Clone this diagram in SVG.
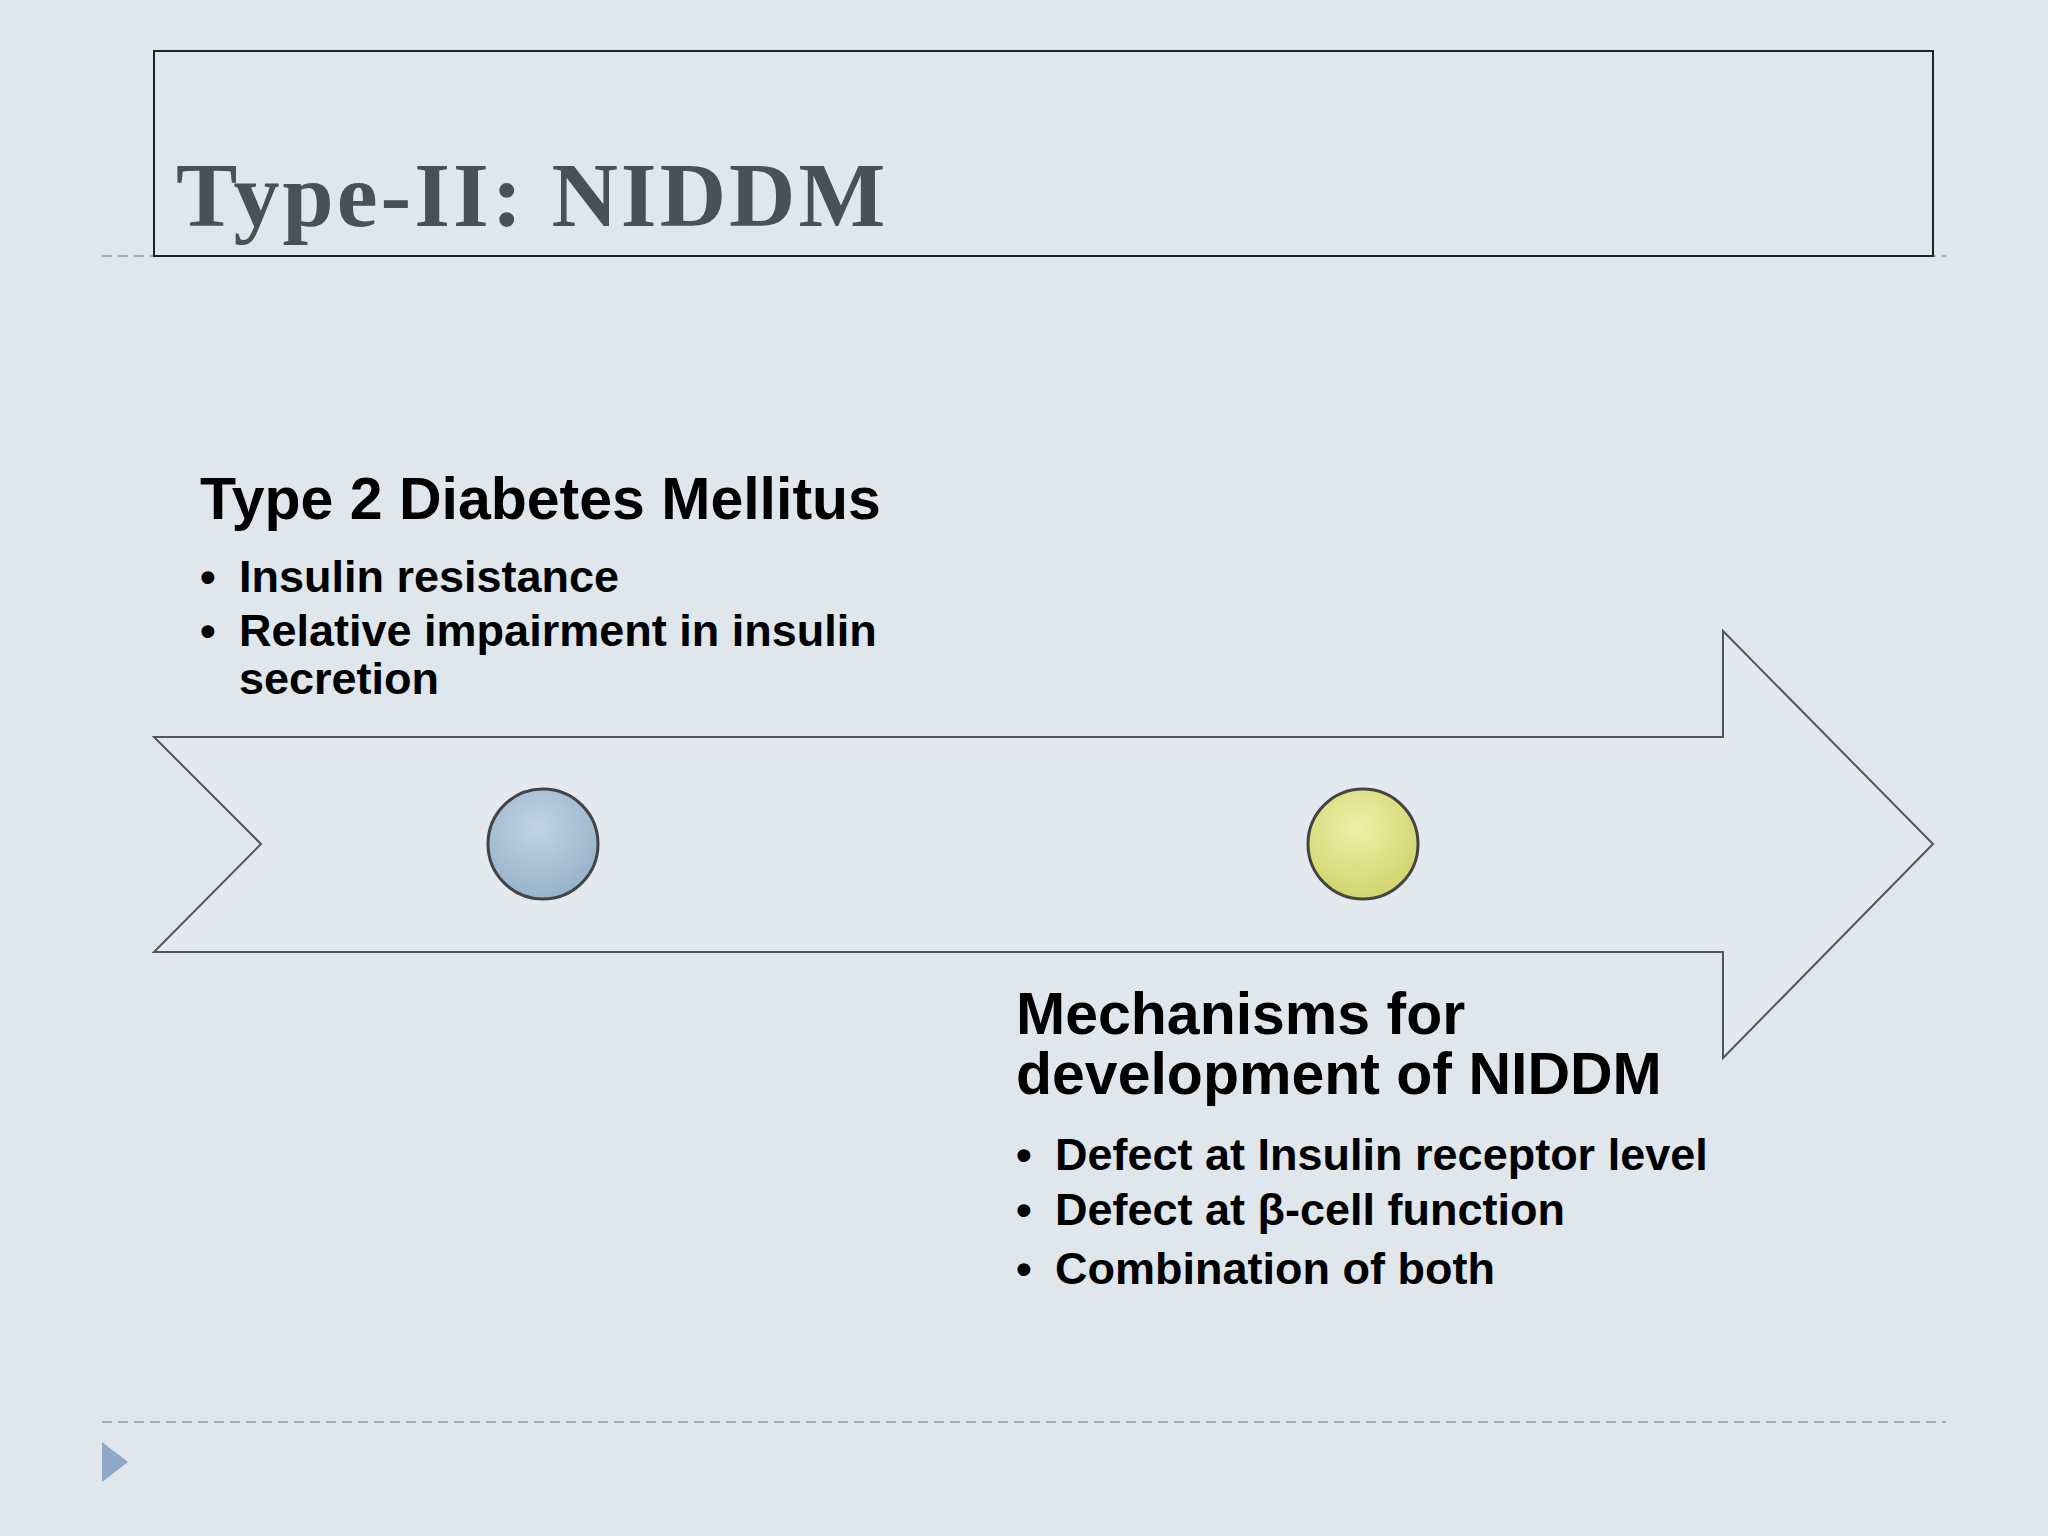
<svg xmlns="http://www.w3.org/2000/svg" width="2048" height="1536" viewBox="0 0 2048 1536">
<defs>
<radialGradient id="gb" cx="0.45" cy="0.35" r="0.7"><stop offset="0" stop-color="#c2d4e4"/><stop offset="1" stop-color="#93b0c8"/></radialGradient>
<radialGradient id="gy" cx="0.45" cy="0.35" r="0.7"><stop offset="0" stop-color="#eef0a8"/><stop offset="1" stop-color="#cfd26a"/></radialGradient>
</defs>
<style>
.t{font-family:"Liberation Sans",Arial,sans-serif;font-weight:bold;fill:#000}
.h{font-size:59px}.b{font-size:45px}
.dash{stroke:#9fb0c0;stroke-width:2;stroke-dasharray:10 6}
</style>
<rect width="2048" height="1536" fill="#e0e7ec"/>
<line class="dash" x1="102" y1="256" x2="1946" y2="256"/>
<line class="dash" x1="102" y1="1422" x2="1946" y2="1422"/>
<polygon points="102,1442 128,1462 102,1482" fill="#8fa8c8"/>
<g id="title">
<rect x="154" y="51" width="1779" height="205" fill="none" stroke="#222" stroke-width="2"/>
<text x="176" y="226" font-family="'Liberation Serif',Georgia,serif" font-weight="bold" font-size="92" letter-spacing="3" fill="#4a4f5a">Type-II: NIDDM</text>
</g>
<g id="arrow">
<polygon points="154,737 1723,737 1723,631 1933,844 1723,1058 1723,952 154,952 261,844" fill="#e3e9ee" stroke="#555" stroke-width="2"/>
</g>
<g id="dot1"><circle cx="543" cy="844" r="55" fill="url(#gb)" stroke="#444" stroke-width="3"/></g>
<g id="dot2"><circle cx="1363" cy="844" r="55" fill="url(#gy)" stroke="#444" stroke-width="3"/></g>
<g id="text1">
<text class="t h" x="200" y="519">Type 2 Diabetes Mellitus</text>
<text class="t b" x="200" y="592">•</text><text class="t b" x="239" y="592">Insulin resistance</text>
<text class="t b" x="200" y="646">•</text><text class="t b" x="239" y="646">Relative impairment in insulin</text>
<text class="t b" x="239" y="694">secretion</text>
</g>
<g id="text2">
<text class="t h" x="1016" y="1034">Mechanisms for</text>
<text class="t h" x="1016" y="1094">development of NIDDM</text>
<text class="t b" x="1016" y="1170">•</text><text class="t b" x="1055" y="1170">Defect at Insulin receptor level</text>
<text class="t b" x="1016" y="1225">•</text><text class="t b" x="1055" y="1225">Defect at β-cell function</text>
<text class="t b" x="1016" y="1284">•</text><text class="t b" x="1055" y="1284">Combination of both</text>
</g>
</svg>
